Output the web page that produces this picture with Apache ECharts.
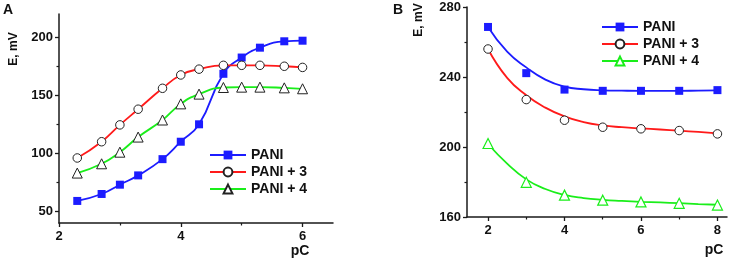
<!DOCTYPE html>
<html>
<head>
<meta charset="utf-8">
<script src="https://cdn.jsdelivr.net/npm/echarts@6/dist/echarts.min.js"></script>
<style>
  html, body { margin: 0; padding: 0; background: #fff; }
  #main { width: 737px; height: 260px; }
</style>
</head>
<body>
<div id="main"></div>
<script>
// panel A
const pcA = [2.3, 2.7, 3.0, 3.3, 3.7, 4.0, 4.3, 4.7, 5.0, 5.3, 5.7, 6.0];
const aPani = [59, 65, 73, 81, 95, 110, 125, 168.5, 182.5, 191, 196.5, 197];
const aPani3 = [96, 110, 124.5, 138, 156, 167.5, 172.5, 175.8, 175.8, 175.8, 175, 174];
const aPani4 = [83, 91, 101, 114, 128.7, 142.6, 151, 156.7, 157, 157, 156.4, 155.6];

// panel B
const pcB = [2, 3, 4, 5, 6, 7, 8];
const bPani = [268.6, 242.2, 232.8, 232.1, 232.1, 232.1, 232.5];
const bPani3 = [256, 227.1, 215.3, 211.3, 210.4, 209.4, 207.5];
const bPani4 = [202, 179.8, 172.5, 169.6, 168.6, 167.8, 166.8];

// fitted curves of panel B
const pcFit = [2, 2.5, 3, 3.5, 4, 4.5, 5, 5.5, 6, 6.5, 7, 7.5, 8];
const fitPani = [268.6, 254.5, 245.5, 238.5, 234.5, 233, 232.4, 232.2, 232.1, 232.1, 232.1, 232.2, 232.3];
const fitPani3 = [256, 239.5, 229.6, 222.5, 217.5, 214.2, 212.3, 211.3, 210.6, 210, 209.3, 208.6, 207.8];
const fitPani4 = [201.7, 190.5, 181.5, 176, 172.6, 170.8, 169.8, 169.2, 168.7, 168.3, 167.9, 167.4, 167];

// ticks
const xTicksA = [2, 4, 6], xMinorA = [3, 5];
const yTicksA = [50, 100, 150, 200], yMinorA = [75, 125, 175];
const xTicksB = [2, 4, 6, 8], xMinorB = [3, 5, 7];
const yTicksB = [160, 200, 240, 280], yMinorB = [180, 220, 260];

const BLUE = '#1c1cff', RED = '#ff1a1a', GREEN = '#1aee1a';
const FONT = '"Liberation Sans", Arial, sans-serif';
const AXIS = '#1a1a1a';

const chart = echarts.init(document.getElementById('main'));

function pairs(xs, ys) {
    return xs.map((x, i) => [x, ys[i]]);
}

function mainAxis(grid, min, max, ticks) {
    return {
        type: 'value',
        gridIndex: grid,
        min: min,
        max: max,
        axisLine: { show: true, onZero: false, lineStyle: { color: AXIS, width: 1.5 } },
        axisTick: { show: true, customValues: ticks, length: 4, lineStyle: { color: AXIS, width: 1.3 } },
        axisLabel: { customValues: ticks, color: '#111', fontFamily: FONT, fontWeight: 'bold', fontSize: 13, margin: 6 },
        splitLine: { show: false }
    };
}

function minorAxis(grid, min, max, ticks, pos) {
    return {
        type: 'value',
        gridIndex: grid,
        position: pos,
        min: min,
        max: max,
        axisLine: { show: false },
        axisTick: { show: true, customValues: ticks, length: 2.5, lineStyle: { color: AXIS, width: 1.2 } },
        axisLabel: { show: false },
        splitLine: { show: false }
    };
}

const xA = Object.assign(mainAxis(0, 2, 6.5, xTicksA), { position: 'bottom' });
xA.axisLabel.margin = 7;
const xB = Object.assign(mainAxis(1, 1.45, 8.25, xTicksB), { position: 'bottom' });
xB.axisLabel.margin = 7;

const symA = { color: '#fff', borderColor: '#222', borderWidth: 1 };
const legendText = { fontFamily: FONT, fontWeight: 'bold', fontSize: 14, color: '#111' };

const options = {
    animation: false,
    backgroundColor: '#fff',
    grid: [
        { left: 59, top: 14, width: 274, height: 209 },
        { left: 467, top: 7, width: 260, height: 210 }
    ],
    xAxis: [
        xA,
        minorAxis(0, 2, 6.5, xMinorA, 'bottom'),
        xB,
        minorAxis(1, 1.45, 8.25, xMinorB, 'bottom')
    ],
    yAxis: [
        Object.assign(mainAxis(0, 40, 220, yTicksA), { position: 'left' }),
        minorAxis(0, 40, 220, yMinorA, 'left'),
        Object.assign(mainAxis(1, 160, 280, yTicksB), { position: 'left' }),
        minorAxis(1, 160, 280, yMinorB, 'left')
    ],
    legend: [
        {
            left: 204, top: 143, orient: 'vertical',
            itemWidth: 36, itemHeight: 11, itemGap: 3,
            textStyle: legendText,
            data: ['PANI', 'PANI + 3', 'PANI + 4']
        },
        {
            left: 596, top: 15, orient: 'vertical',
            itemWidth: 36, itemHeight: 11, itemGap: 3,
            textStyle: legendText,
            data: [
                { name: 'PANI ', lineStyle: { color: BLUE, width: 2, opacity: 1 } },
                { name: 'PANI + 3 ', lineStyle: { color: RED, width: 2, opacity: 1 } },
                { name: 'PANI + 4 ', lineStyle: { color: GREEN, width: 2, opacity: 1 } }
            ]
        }
    ],
    graphic: [
        { type: 'text', x: 3, y: 3, style: { text: 'A', font: 'bold 14px ' + FONT, fill: '#111' } },
        { type: 'text', x: 393, y: 3, style: { text: 'B', font: 'bold 14px ' + FONT, fill: '#111' } },
        { type: 'text', x: 14, y: 49, rotation: Math.PI / 2, style: { text: 'E, mV', font: 'bold 12px ' + FONT, fill: '#111', align: 'center', verticalAlign: 'middle' } },
        { type: 'text', x: 419, y: 20, rotation: Math.PI / 2, style: { text: 'E, mV', font: 'bold 12px ' + FONT, fill: '#111', align: 'center', verticalAlign: 'middle' } },
        { type: 'text', x: 300, y: 251, style: { text: 'pC', font: 'bold 14px ' + FONT, fill: '#111', align: 'center', verticalAlign: 'middle' } },
        { type: 'text', x: 714, y: 250, style: { text: 'pC', font: 'bold 14px ' + FONT, fill: '#111', align: 'center', verticalAlign: 'middle' } }
    ],
    series: [
        {
            name: 'PANI', type: 'line', xAxisIndex: 0, yAxisIndex: 0,
            data: pairs(pcA, aPani), smooth: 0.5,
            symbol: 'rect', symbolSize: 8,
            itemStyle: { color: BLUE },
            lineStyle: { color: BLUE, width: 1.8 }
        },
        {
            name: 'PANI + 3', type: 'line', xAxisIndex: 0, yAxisIndex: 0,
            data: pairs(pcA, aPani3), smooth: 0.5,
            symbol: 'circle', symbolSize: 8.5,
            itemStyle: symA,
            lineStyle: { color: RED, width: 1.8 }
        },
        {
            name: 'PANI + 4', type: 'line', xAxisIndex: 0, yAxisIndex: 0,
            data: pairs(pcA, aPani4), smooth: 0.5,
            symbol: 'triangle', symbolSize: 10,
            itemStyle: symA,
            lineStyle: { color: GREEN, width: 1.8 }
        },
        // fits B
        {
            name: 'fit1', type: 'line', xAxisIndex: 2, yAxisIndex: 2, silent: true,
            data: pairs(pcFit, fitPani), smooth: 0.5, symbol: 'none',
            lineStyle: { color: BLUE, width: 1.8 }
        },
        {
            name: 'fit3', type: 'line', xAxisIndex: 2, yAxisIndex: 2, silent: true,
            data: pairs(pcFit, fitPani3), smooth: 0.5, symbol: 'none',
            lineStyle: { color: RED, width: 1.8 }
        },
        {
            name: 'fit4', type: 'line', xAxisIndex: 2, yAxisIndex: 2, silent: true,
            data: pairs(pcFit, fitPani4), smooth: 0.5, symbol: 'none',
            lineStyle: { color: GREEN, width: 1.8 }
        },
        // points B
        {
            name: 'PANI ', type: 'line', xAxisIndex: 2, yAxisIndex: 2,
            data: pairs(pcB, bPani), symbol: 'rect', symbolSize: 8,
            itemStyle: { color: BLUE },
            lineStyle: { color: BLUE, opacity: 0 }
        },
        {
            name: 'PANI + 3 ', type: 'line', xAxisIndex: 2, yAxisIndex: 2,
            data: pairs(pcB, bPani3), symbol: 'circle', symbolSize: 8.5,
            itemStyle: symA,
            lineStyle: { color: RED, opacity: 0 }
        },
        {
            name: 'PANI + 4 ', type: 'line', xAxisIndex: 2, yAxisIndex: 2,
            data: pairs(pcB, bPani4), symbol: 'triangle', symbolSize: 10,
            itemStyle: { color: '#fff', borderColor: GREEN, borderWidth: 1.2 },
            lineStyle: { color: GREEN, opacity: 0 }
        }
    ]
};

chart.setOption(options, true);
</script>
</body>
</html>
